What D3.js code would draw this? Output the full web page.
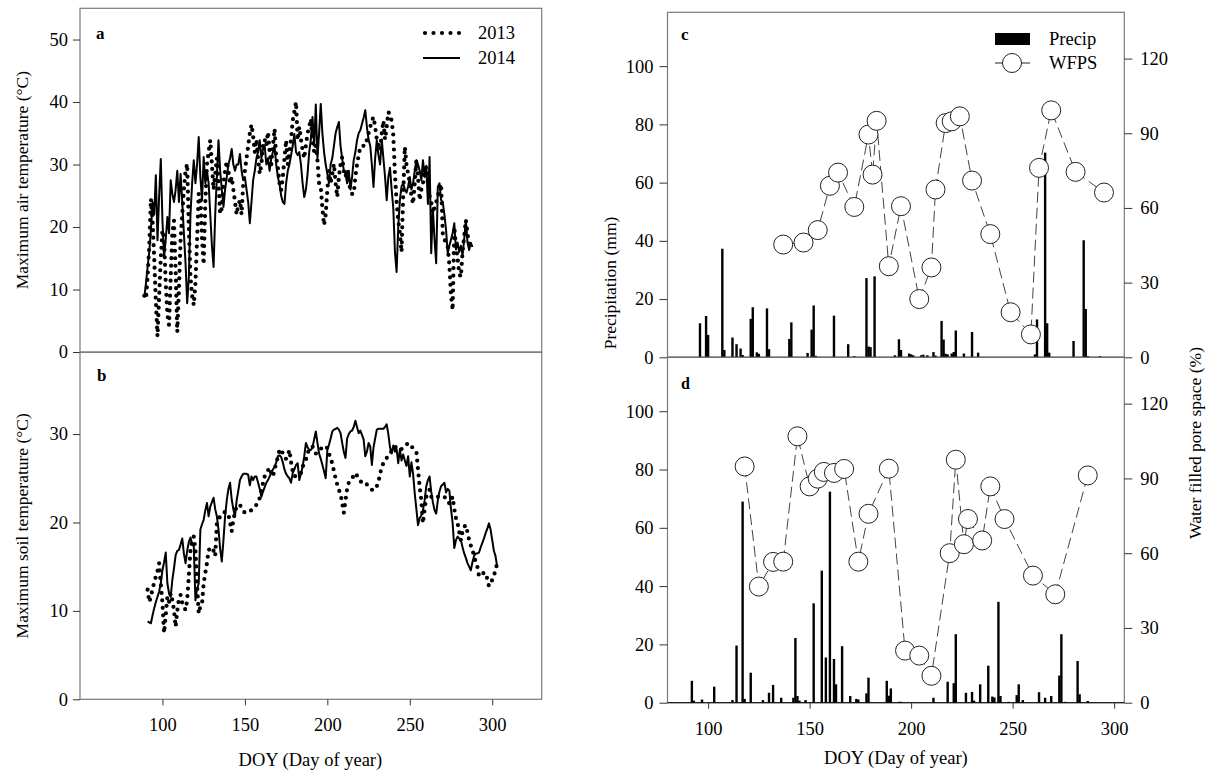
<!DOCTYPE html>
<html>
<head>
<meta charset="utf-8">
<script src="https://cdn.jsdelivr.net/npm/d3@7"></script>
<style>
  html, body { margin: 0; padding: 0; background: #fff; }
  svg { display: block; }
  text { font-family: "Liberation Serif", "Times New Roman", serif; fill: #000; }
</style>
</head>
<body>
<script>
// ---- Daily maximum air temperature (°C), panel a ----
const airStart2013 = 89;
const airTemp2013 = [
  9, 8.5, 12, 17, 24.5, 21, 15, 8, 2.5, 9,
  15, 19.5, 18, 11, 6, 4.3, 12, 19, 21, 13,
  3.2, 10, 18, 22, 26, 29, 30.1, 20, 12, 9,
  7.5, 11, 18, 25.3, 25, 18, 14, 24, 30, 32,
  33.9, 30, 26, 28.5, 31, 27, 22.1, 23, 27, 29,
  30.5, 29, 27, 28, 26, 24, 22, 23.5, 24.3, 22,
  27, 29, 31, 33, 35, 36.4, 34.5, 32, 34, 31,
  28.5, 30, 33, 34, 33, 35.2, 32, 30, 33, 35.7,
  31, 29.6, 27, 25.9, 28, 31, 33.9, 30, 32, 34,
  37, 38.5, 40, 33.9, 36, 34, 32.3, 31, 33, 35,
  36, 37.3, 34, 32, 33, 30.7, 27, 26.4, 23, 20.3,
  22, 25.9, 29, 27, 28.5, 30.1, 27, 24.8, 28, 30,
  31.2, 29, 28, 29.1, 27, 26, 25.3, 25.3, 28, 30,
  31.5, 32.8, 33, 33, 33, 34, 35, 36, 37, 37.6,
  36, 34, 33, 32.3, 35, 37, 34, 36, 38.4, 38,
  37, 34.7, 28.5, 24, 21, 19, 16, 25, 32.8, 30,
  28.5, 27, 25, 23.7, 27, 30.7, 28, 24.3, 26, 27,
  29, 29.6, 27, 25, 24, 22.2, 23, 24, 25, 26,
  26.9, 19, 18, 17.5, 16.8, 14, 9, 6.7, 20, 17,
  15, 12.5, 12, 16, 18.5, 21.1, 19, 17, 16.3
];
const airStart2014 = 89;
const airTemp2014 = [
  8.8, 11, 13.6, 16, 19.5, 24, 22, 28.3, 17.9, 25,
  30.9, 21, 15.2, 18, 21.6, 19, 27.5, 25.3, 24, 26,
  29, 24, 28.5, 24, 19, 14.2, 7.8, 12, 22, 27,
  30.7, 27, 30, 34.4, 28, 24.3, 31.2, 27, 29, 27,
  22, 17, 13.6, 22, 28, 33.9, 29, 26, 23.2, 26,
  28, 30, 31, 32.5, 30, 29, 30, 30, 31.7, 29,
  27.5, 28, 26, 24, 20.6, 24, 27.5, 29, 31, 32,
  33.9, 31, 32.5, 33, 30, 31, 29, 31, 32, 33,
  30, 28, 26.9, 25, 24, 23.7, 27, 29, 30, 31.5,
  33, 34.9, 32, 31.5, 32, 30, 27, 24.8, 26, 28.5,
  32, 34, 37.6, 33, 39.6, 31, 35, 39.7, 35, 32,
  30, 28.5, 27, 30, 31, 33, 35, 36, 36.8, 33,
  31, 29, 28.5, 27, 29, 26, 28, 30.7, 32, 33.9,
  35, 35.5, 36.5, 37.5, 38.7, 36, 34, 33, 30, 26.4,
  31, 33.9, 31.5, 30, 34, 31, 28, 24.3, 28, 29.5,
  26, 23, 16, 12.8, 20, 24.3, 26.5, 27, 26, 25.5,
  26.5, 28, 26, 27, 29, 30.7, 30, 29, 27.5, 30.7,
  28, 29.8, 23.7, 31.2, 15.8, 23, 18, 14.2, 26.4, 27,
  24.3, 24, 22, 19.5, 15.8, 17, 18, 19, 20.6, 16.4,
  17.5, 16, 17, 15.5, 18, 21.1, 17.5, 16.3, 17.5, 16.8
];

// ---- Daily maximum soil temperature (°C), panel b ----
const soilStart = 91;
const soilTemp2013 = [
  12.4, 11, 11.6, 12.5, 13.2, 13.9, 14.5, 15.4, 13, 10.9,
  7.5, 9.5, 11.6, 11, 12, 11.2, 10.1, 8.2, 10, 11.4,
  11.8, 10.9, 10.5, 10.1, 11.2, 14, 16.9, 18, 18.4, 16.9,
  13, 9.7, 10.5, 10.8, 13.1, 14.3, 15.4, 16.9, 17, 17.2,
  16.8, 16.2, 19.9, 20.3, 20.7, 21, 21.1, 21.2, 21, 20.9,
  20, 19, 20.3, 21.2, 21.8, 22, 22, 21.6, 21.3, 21.1,
  21.1, 21.2, 21.3, 21.4, 21.6, 21.8, 22, 22.2, 22.8, 23.6,
  24.5, 25.2, 25.6, 25.9, 26.2, 25.6, 25.2, 26, 26.7, 27.4,
  28.2, 28.3, 27.8, 27.3, 27.2, 27.6, 28.2, 26.8, 25.8, 25.2,
  25.3, 25.3, 25.3, 25.6, 26.3, 26.7, 27.1, 27.8, 28.3, 28.4,
  28.6, 28.2, 27.8, 27.9, 28, 28.3, 28.6, 28.6, 28.6, 28.4,
  27.8, 27.2, 26.7, 25.8, 25, 24.3, 23.7, 23.2, 22.2, 21.1,
  22.5, 23.8, 24.5, 24.7, 25, 25.3, 25.6, 25.3, 25, 24.7,
  24.5, 24.6, 24.5, 24.3, 24.1, 23.9, 23.7, 23.7, 23.7, 24.1,
  24.6, 25.5, 26.3, 26.7, 27.1, 27.3, 27.5, 27.8, 28.1, 28.4,
  28.6, 28.4, 28.2, 28.2, 28.3, 28.5, 28.6, 28.8, 29, 28.8,
  28.6, 28.4, 28.2, 28, 26, 24, 22.5, 19.9, 21.5, 22.9,
  23.3, 23.7, 22.9, 23, 22.9, 23, 22.9, 22.9, 22.8, 22.8,
  22.9, 22.7, 22.6, 22.1, 22.5, 22.9, 21.5, 20.5, 19.9, 18.9,
  18, 19, 19.5, 19.7, 18.9, 18, 17.4, 16.9, 16.2, 15.5,
  15, 13.9, 14, 14.2, 14.3, 14.3, 13.6, 12.8, 13.2, 13.5,
  14, 14.6, 15.4
];
const soilTemp2014 = [
  8.8, 8.7, 8.6, 9.5, 10.3, 11, 11.6, 12.2, 13.1, 14.6,
  15.5, 16.6, 13.1, 12, 11.6, 13.5, 14.8, 16.3, 16.8, 16.9,
  17.5, 18.2, 16.5, 15.4, 16.8, 17.8, 18.3, 17.6, 17.3, 11.2,
  12.5, 13.1, 19.2, 19.8, 20.3, 21.4, 22.2, 20.7, 21.8, 22.3,
  22.8, 21.5, 20.7, 19.2, 17, 15.6, 18, 20.7, 22.5, 23.8,
  24.5, 22.6, 21.5, 20.7, 22.5, 23.6, 24.8, 25.2, 25.5, 25.5,
  25.5, 25.4, 24.2, 25.2, 24.8, 25.2, 25.2, 24.5, 23.8, 22.9,
  23.5, 24, 24.5, 24.8, 25.2, 25.6, 26, 26.3, 26.8, 27.5,
  27.6, 27.4, 26.8, 26, 25.5, 25.2, 25, 24.5, 25.6, 26,
  26.5, 26.7, 24.8, 25.5, 26.3, 27.5, 29, 28.5, 28.2, 28.2,
  28.5, 29.4, 30.3, 29, 27.8, 27.2, 26.5, 25.8, 25, 28.2,
  28.8, 29.5, 30.3, 30.5, 30.6, 30.7, 30.5, 30.1, 29, 28,
  27.3, 29.5, 30, 30.3, 30.4, 30.8, 31.5, 30.8, 30.1, 30.4,
  29.9, 29.4, 27.5, 28, 29, 28.6, 26.5, 28.5, 29.5, 30.5,
  30.6, 30.6, 30.6, 30.6, 30.8, 31.1, 30, 28.5, 27.8, 28.7,
  28, 28.3, 26.7, 28.3, 27, 27.7, 27, 26.4, 27.5, 25.2,
  26.8, 25.5, 23.3, 21.5, 19.7, 20.5, 20.8, 21.4, 22.5, 24.1,
  24.8, 25.2, 23.5, 22.3, 21.4, 21, 22.5, 23.5, 24.1, 24.3,
  24.5, 23.4, 23.8, 23.6, 21.5, 19.9, 17.1, 18, 18.4, 18.2,
  18, 17.2, 16.5, 16, 15.4, 15, 14.6, 15.5, 16.2, 16.5,
  16.5, 16.6, 17.2, 17.7, 18.2, 18.8, 19.3, 19.9, 19.2, 18,
  16.8, 16.2, 15
];

// ---- Panel c: precipitation (mm) and WFPS (%) ----
const precipDoyC = [96, 99, 100, 107, 108, 112, 114, 116, 117, 121, 122, 124, 125, 129, 130,
  140, 141, 149, 151, 152, 153, 162, 169, 172, 178, 179, 180, 182, 192, 194, 195, 199, 200,
  201, 205, 206, 208, 211, 212, 215, 216, 217, 218, 220, 221, 222, 226, 230, 233, 261, 262,
  266, 267, 268, 280, 285, 286, 287, 293];
const precipC = [11.7, 14.2, 7.7, 37.3, 2.5, 6.8, 4.5, 3, 0.8, 13.2, 17.2, 1.7, 1.2, 16.8, 2.8,
  6.3, 12, 1.5, 9.5, 17.8, 0.5, 14.3, 4.5, 0.4, 27.2, 3.7, 3.5, 27.8, 0.7, 6.2, 2.5, 1.3, 1.0,
  0.7, 0.7, 0.9, 0.7, 1.8, 0.6, 12.5, 6.1, 1.2, 1.0, 1.3, 1.8, 9.2, 1.3, 8.7, 1.6, 1.0, 13,
  70.3, 11.7, 1.6, 5.6, 40.2, 16.6, 0.4, 0.4];
const wfpsDoyC = [137, 147, 154, 160, 164, 172, 179, 181, 183, 189, 195, 204, 210, 212, 217,
  220, 224, 230, 239, 249, 259, 263, 269, 281, 295];
const wfpsC = [45.3, 46.1, 51.1, 68.9, 74.2, 60.4, 89.5, 73.4, 95.0, 36.6, 60.7, 23.4, 36.1,
  67.4, 94.1, 94.8, 96.8, 71.0, 49.5, 18.1, 9.2, 76.1, 99.2, 74.5, 66.2];

// ---- Panel d: precipitation (mm) and WFPS (%) ----
const precipDoyD = [92, 93, 97, 103, 112, 114, 117, 118, 121, 127, 130, 132, 136, 142, 143, 144,
  145, 148, 152, 156, 158, 160, 162, 163, 166, 170, 173, 174, 178, 179, 188, 189, 190, 194, 195,
  211, 218, 221, 222, 227, 230, 231, 234, 238, 240, 241, 243, 244, 248, 252, 253, 255, 263, 266,
  269, 273, 274, 276, 282, 283, 287];
const precipD = [7.5, 0.7, 1.1, 5.5, 0.9, 19.6, 69.0, 1.3, 10.3, 0.9, 3.4, 6.1, 1.7, 1.7, 22.2, 2.3,
  0.7, 0.9, 34.1, 45.3, 15.5, 72.4, 15.0, 6.3, 19.4, 2.3, 1.3, 1.1, 3.2, 8.6, 7.5, 2.4, 4.9, 0.3, 0.3,
  1.7, 7.2, 6.7, 23.5, 3.4, 3.7, 0.7, 6.3, 12.7, 2.1, 1.8, 34.6, 2.3, 0.3, 2.6, 6.3, 0.9, 3.6, 1.7,
  2.3, 9.3, 23.5, 0.3, 14.3, 2.9, 0.6];
const wfpsDoyD = [118, 125, 132, 137, 144, 150, 154, 157, 162, 167, 174, 179, 189, 197, 204, 210,
  219, 222, 226, 228, 235, 239, 246, 260, 271, 287];
const wfpsD = [94.8, 46.6, 56.5, 56.6, 106.9, 86.8, 89.9, 92.6, 92.2, 93.8, 56.6, 75.8, 93.9, 20.9,
  18.9, 10.8, 60.0, 97.5, 63.6, 73.7, 65.1, 86.8, 73.7, 51.0, 43.5, 91.2];

// ---- Axis ticks and labels ----
const doyTicks = [100, 150, 200, 250, 300];
const airTicks = [0, 10, 20, 30, 40, 50];
const soilTicks = [0, 10, 20, 30];
const precipTicks = [0, 20, 40, 60, 80, 100];
const wfpsTicks = [0, 30, 60, 90, 120];
const yearLabels = ["2013", "2014"];
const seriesLabels = ["Precip", "WFPS"];

const W = 1223, H = 776;
const svg = d3.select("body").append("svg").attr("width", W).attr("height", H);

const frameColor = "#7a7a7a";
const tickFont = 18.5;

// Left column geometry
const L = { x0: 80, x1: 541.7 };
const A = { y0: 8.3, y1: 352 };
const B = { y0: 352.3, y1: 699.3 };
// Right column geometry
const R = { x0: 667.5, x1: 1124.3 };
const C = { y0: 12.3, y1: 357.3 };
const D = { y0: 357.3, y1: 702.7 };

const xLeft = d3.scaleLinear().domain([50, 330]).range([L.x0, L.x1]);
const yAir = d3.scaleLinear().domain([0, 55]).range([A.y1, A.y0]);
const ySoil = d3.scaleLinear().domain([0, 39.25]).range([B.y1, B.y0]);

const xRight = d3.scaleLinear().domain([80, 305]).range([R.x0, R.x1]);
const yPrecC = d3.scaleLinear().domain([0, 118.5]).range([C.y1, C.y0]);
const yWfpsC = d3.scaleLinear().domain([0, 138.6]).range([C.y1, C.y0]);
const yPrecD = d3.scaleLinear().domain([0, 118.5]).range([D.y1, D.y0]);
const yWfpsD = d3.scaleLinear().domain([0, 138.6]).range([D.y1, D.y0]);

function styleAxis(g) {
  g.select(".domain").remove();
  g.selectAll(".tick line").attr("stroke", "#333").attr("stroke-width", 1);
  g.selectAll(".tick text").attr("font-size", tickFont)
    .attr("font-family", "Liberation Serif, Times New Roman, serif").attr("fill", "#000");
}

function frame(x0, x1, y0, y1) {
  svg.append("rect").attr("x", x0).attr("y", y0).attr("width", x1 - x0).attr("height", y1 - y0)
    .attr("fill", "none").attr("stroke", frameColor).attr("stroke-width", 1.2);
}

// ================= Panel a =================
frame(L.x0, L.x1, A.y0, A.y1);
svg.append("g").attr("transform", `translate(${L.x0},0)`)
  .call(d3.axisLeft(yAir).tickValues(airTicks).tickSize(7).tickPadding(5).tickFormat(d3.format("d")))
  .call(styleAxis);

const lineAir = (start) => d3.line().x((d, i) => xLeft(start + i)).y(d => yAir(d));
svg.append("path").datum(airTemp2014).attr("d", lineAir(airStart2014))
  .attr("fill", "none").attr("stroke", "#000").attr("stroke-width", 2).attr("stroke-linejoin", "round");
svg.append("path").datum(airTemp2013).attr("d", lineAir(airStart2013))
  .attr("fill", "none").attr("stroke", "#000").attr("stroke-width", 4.2)
  .attr("stroke-linecap", "round").attr("stroke-dasharray", "0,7.5");

svg.append("text").attr("x", 96).attr("y", 39).attr("font-weight", "bold").attr("font-size", 17).text("a");

// legend a
const legA = svg.append("g");
legA.append("line").attr("x1", 425).attr("x2", 460).attr("y1", 33).attr("y2", 33)
  .attr("stroke", "#000").attr("stroke-width", 4.2).attr("stroke-linecap", "round").attr("stroke-dasharray", "0,8.5");
legA.append("line").attr("x1", 423).attr("x2", 460).attr("y1", 58).attr("y2", 58)
  .attr("stroke", "#000").attr("stroke-width", 2);
legA.selectAll("text.yr").data(yearLabels).join("text").attr("class", "yr")
  .attr("x", 478).attr("y", (d, i) => 33 + 25 * i).attr("dy", "0.35em").attr("font-size", tickFont).text(d => d);

svg.append("text").attr("transform", `translate(22,${(A.y0 + A.y1) / 2}) rotate(-90)`)
  .attr("text-anchor", "middle").attr("dy", "0.35em").attr("font-size", 17.5).text("Maximum air temperature (°C)");

// ================= Panel b =================
frame(L.x0, L.x1, B.y0, B.y1);
svg.append("g").attr("transform", `translate(${L.x0},0)`)
  .call(d3.axisLeft(ySoil).tickValues(soilTicks).tickSize(7).tickPadding(5).tickFormat(d3.format("d")))
  .call(styleAxis);
svg.append("g").attr("transform", `translate(0,${B.y1})`)
  .call(d3.axisBottom(xLeft).tickValues(doyTicks).tickSize(6).tickPadding(13).tickFormat(d3.format("d")))
  .call(styleAxis);

const lineSoil = d3.line().x((d, i) => xLeft(soilStart + i)).y(d => ySoil(d));
svg.append("path").datum(soilTemp2014).attr("d", lineSoil)
  .attr("fill", "none").attr("stroke", "#000").attr("stroke-width", 2).attr("stroke-linejoin", "round");
svg.append("path").datum(soilTemp2013).attr("d", lineSoil)
  .attr("fill", "none").attr("stroke", "#000").attr("stroke-width", 4.2)
  .attr("stroke-linecap", "round").attr("stroke-dasharray", "0,7.5");

svg.append("text").attr("x", 97).attr("y", 381).attr("font-weight", "bold").attr("font-size", 17).text("b");
svg.append("text").attr("transform", `translate(22,${(B.y0 + B.y1) / 2}) rotate(-90)`)
  .attr("text-anchor", "middle").attr("dy", "0.35em").attr("font-size", 17.5).text("Maximum soil temperature (°C)");
svg.append("text").attr("x", (L.x0 + L.x1) / 2 - 0.5).attr("y", 766).attr("text-anchor", "middle")
  .attr("font-size", 18.5).text("DOY (Day of year)");

// ================= Panels c and d =================
function precipPanel(P, doys, precip, wdoys, wfps, yP, yW, withXAxis) {
  frame(R.x0, R.x1, P.y0, P.y1);
  svg.append("g").attr("transform", `translate(${R.x0},0)`)
    .call(d3.axisLeft(yP).tickValues(precipTicks).tickSize(8).tickPadding(6).tickFormat(d3.format("d")))
    .call(styleAxis);
  svg.append("g").attr("transform", `translate(${R.x1},0)`)
    .call(d3.axisRight(yW).tickValues(wfpsTicks).tickSize(8).tickPadding(8).tickFormat(d3.format("d")))
    .call(styleAxis);
  if (withXAxis) {
    svg.append("g").attr("transform", `translate(0,${P.y1})`)
      .call(d3.axisBottom(xRight).tickValues(doyTicks).tickSize(6).tickPadding(13).tickFormat(d3.format("d")))
      .call(styleAxis);
  }
  // zero baseline
  svg.append("line").attr("x1", R.x0).attr("x2", R.x1).attr("y1", P.y1).attr("y2", P.y1)
    .attr("stroke", "#222").attr("stroke-width", 1.2);

  const bw = 2.4;
  svg.append("g").selectAll("rect").data(precip).join("rect")
    .attr("x", (d, i) => xRight(doys[i]) - bw / 2)
    .attr("y", d => yP(d))
    .attr("width", bw)
    .attr("height", d => yP(0) - yP(d))
    .attr("fill", "#000");

  const pts = wfps.map((v, i) => [wdoys[i], v]);
  svg.append("path").datum(pts)
    .attr("d", d3.line().x(d => xRight(d[0])).y(d => yW(d[1])))
    .attr("fill", "none").attr("stroke", "#444").attr("stroke-width", 1)
    .attr("stroke-dasharray", "11,5");
  svg.append("g").selectAll("circle").data(pts).join("circle")
    .attr("cx", d => xRight(d[0])).attr("cy", d => yW(d[1])).attr("r", 9.5)
    .attr("fill", "#fff").attr("stroke", "#222").attr("stroke-width", 1);
}

precipPanel(C, precipDoyC, precipC, wfpsDoyC, wfpsC, yPrecC, yWfpsC, false);
precipPanel(D, precipDoyD, precipD, wfpsDoyD, wfpsD, yPrecD, yWfpsD, true);

svg.append("text").attr("x", 681).attr("y", 40).attr("font-weight", "bold").attr("font-size", 17).text("c");
svg.append("text").attr("x", 681).attr("y", 389).attr("font-weight", "bold").attr("font-size", 16)
  .attr("font-family", "Liberation Sans, Arial, sans-serif").text("d");

// legend c
const legC = svg.append("g");
legC.append("rect").attr("x", 995).attr("y", 33).attr("width", 35).attr("height", 12).attr("fill", "#000");
legC.append("line").attr("x1", 995).attr("x2", 1030).attr("y1", 63).attr("y2", 63)
  .attr("stroke", "#222").attr("stroke-width", 1);
legC.append("circle").attr("cx", 1012).attr("cy", 63).attr("r", 9.5)
  .attr("fill", "#fff").attr("stroke", "#222").attr("stroke-width", 1);
legC.selectAll("text.sl").data(seriesLabels).join("text").attr("class", "sl")
  .attr("x", 1049).attr("y", (d, i) => 39 + 24 * i).attr("dy", "0.35em").attr("font-size", tickFont).text(d => d);

svg.append("text").attr("transform", `translate(610,283) rotate(-90)`)
  .attr("text-anchor", "middle").attr("dy", "0.35em").attr("font-size", 17.5).text("Precipitation (mm)");
svg.append("text").attr("transform", `translate(1195,443) rotate(-90)`)
  .attr("text-anchor", "middle").attr("dy", "0.35em").attr("font-size", 17.5).text("Water filled pore space (%)");
svg.append("text").attr("x", (R.x0 + R.x1) / 2).attr("y", 764).attr("text-anchor", "middle")
  .attr("font-size", 18.5).text("DOY (Day of year)");
</script>
</body>
</html>
